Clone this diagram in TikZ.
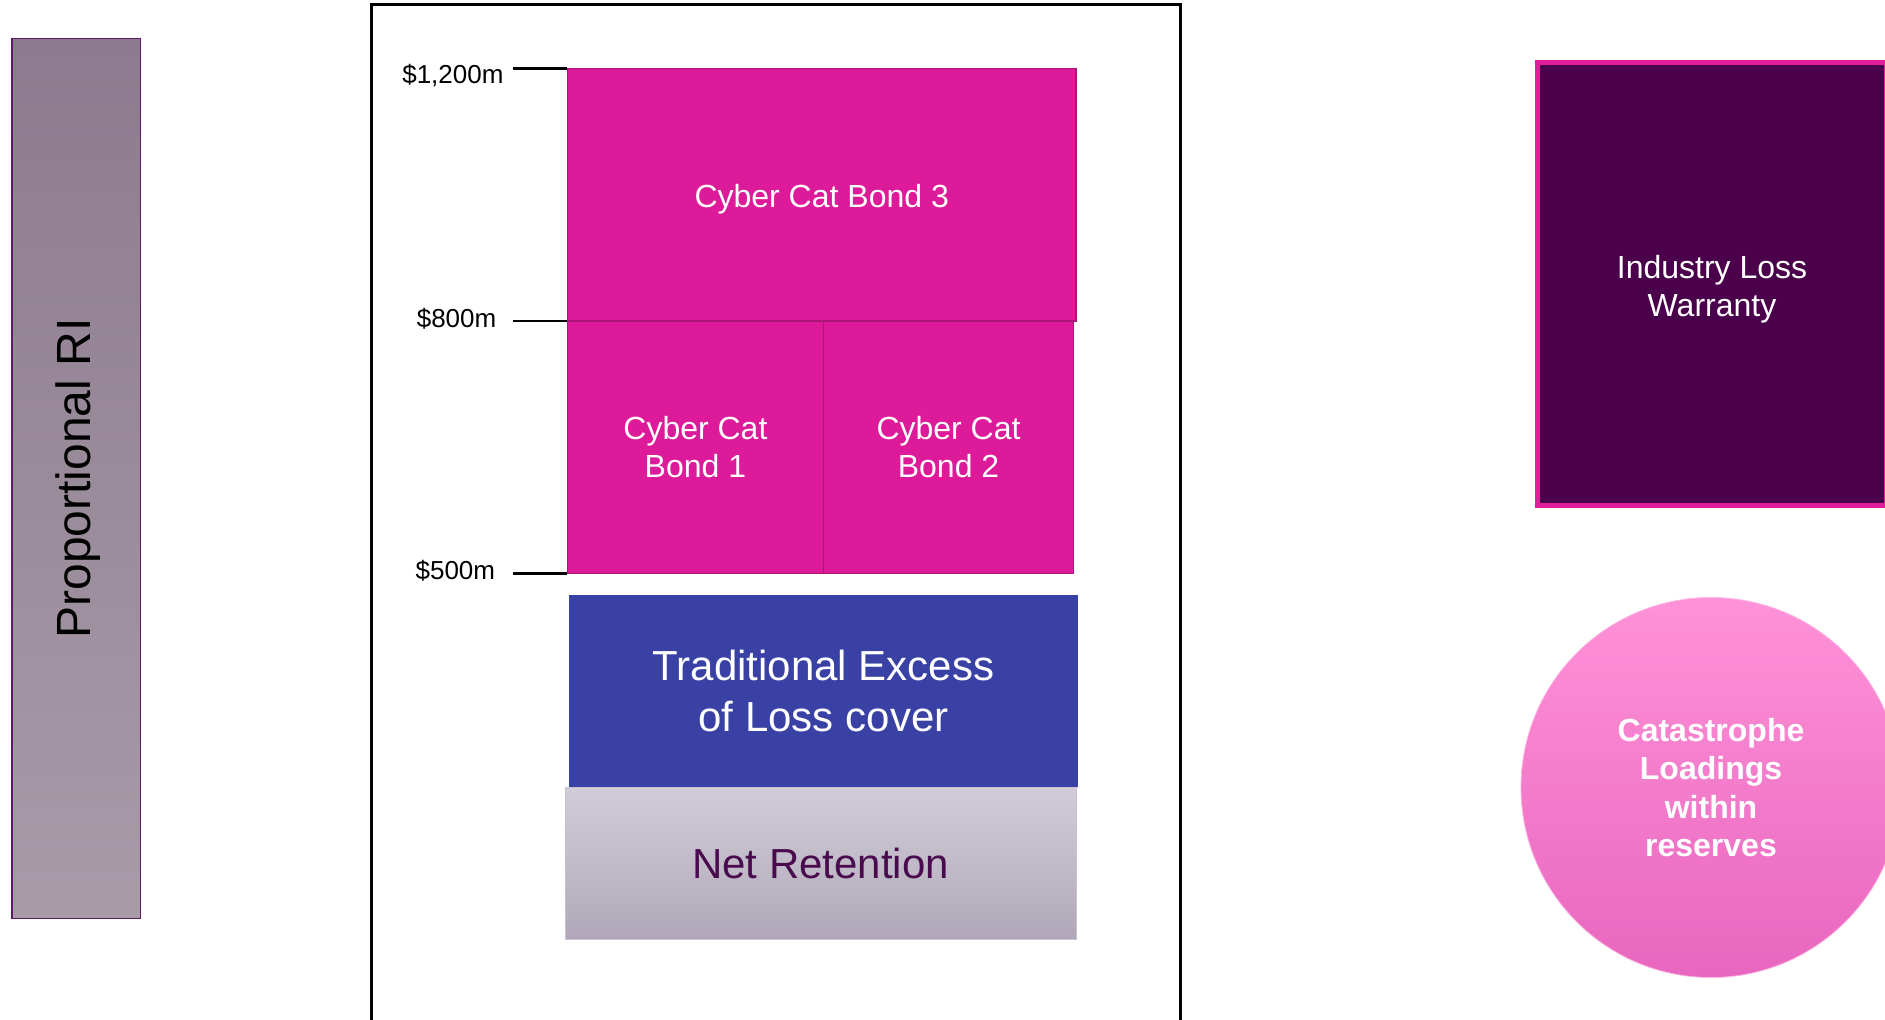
\documentclass[tikz,border=0pt]{standalone}
\usepackage{fontspec}
\setmainfont{Liberation Sans}
\definecolor{bondPink}{RGB}{220,26,154}
\definecolor{bondEdge}{RGB}{170,22,120}
\definecolor{xolBlue}{RGB}{57,65,165}
\definecolor{netTop}{RGB}{210,204,216}
\definecolor{netBottom}{RGB}{176,168,184}
\definecolor{netEdge}{RGB}{200,196,206}
\definecolor{netText}{RGB}{74,10,78}
\definecolor{propTop}{RGB}{140,123,142}
\definecolor{propBottom}{RGB}{168,155,168}
\definecolor{propEdge}{RGB}{96,24,104}
\definecolor{ilwFill}{RGB}{75,0,75}
\definecolor{ilwEdge}{RGB}{224,30,154}
\definecolor{catTop}{RGB}{255,146,216}
\definecolor{catBottom}{RGB}{232,102,190}
\usepackage{tikz}
\usetikzlibrary{positioning}

\begin{document}
\begin{tikzpicture}[x=1pt,y=-1pt,
    layer/.style={rectangle, inner sep=0pt, outer sep=0pt, anchor=north west, align=center},
    bond/.style={layer, draw=bondEdge, line width=1.5pt, fill=bondPink, text=white,
                 font=\fontsize{32}{38.5}\selectfont},
    ticklab/.style={anchor=east, inner sep=0pt, font=\fontsize{26}{31}\selectfont},
    tick/.style={line width=2.5pt}]
    \useasboundingbox (0,0) rectangle (1885,1020);
    \clip (0,0) rectangle (1885,1020);

    % proportional cover
    \node[layer, draw=propEdge, line width=1.5pt, top color=propTop, bottom color=propBottom,
          minimum width=128.7, minimum height=880] (prop) at (12,38.5) {};
    \node[rotate=90, font=\fontsize{48}{58}\selectfont] (proptext) at ([xshift=2pt]prop.center) {Proportional RI};

    % tower frame
    \draw[line width=3pt] (371.5,4.8) rectangle (1180.6,1040);

    % layers of the tower
    \node[bond, minimum width=508.6, minimum height=252.5, text height=25.5pt, text depth=0pt] (bond3) at (567.4,68.5) {Cyber Cat Bond 3};
    \node[bond, minimum width=256.1, minimum height=252.5] (bond1) at (bond3.south west) {Cyber Cat\\Bond 1};
    \node[bond, minimum width=250.1, minimum height=252.5] (bond2) at (bond1.north east) {Cyber Cat\\Bond 2};
    \node[layer, fill=xolBlue, text=white, minimum width=509.8, minimum height=192.4,
          font=\fontsize{42}{50.5}\selectfont] (xol) at (568.6,595) {Traditional Excess\\of Loss cover};
    \node[layer, draw=netEdge, line width=1pt, top color=netTop, bottom color=netBottom, text=netText,
          minimum width=511, minimum height=151.6, font=\fontsize{42}{50.5}\selectfont] (net) at (565,787.4) {Net Retention};

    % attachment points
    \coordinate (t1200) at (513,68.5);
    \coordinate (t800) at (513,321);
    \coordinate (t500) at (513,573.5);
    \draw[tick] (t1200) -- (t1200 -| bond3.west);
    \draw[tick] (t800) -- (t800 -| bond1.west);
    \draw[tick] (t500) -- (t500 -| bond1.west);
    \node[ticklab] (l1200) at (503.7,75.7) {\$1,200m};
    \node[ticklab] (l800) at (496.5,318.6) {\$800m};
    \node[ticklab] (l500) at (495.3,571) {\$500m};

    % other covers
    \node[layer, draw=ilwEdge, line width=5.3pt, fill=ilwFill, text=white, text height=71pt,
          minimum width=348.6, minimum height=443, font=\fontsize{32}{38}\selectfont] (ilw) at (1537.7,62.7) {Industry Loss\\Warranty};
    \node[circle, inner sep=0pt, minimum size=380, top color=catTop, bottom color=catBottom,
          draw=catTop!70!white, line width=0.8pt, text=white, align=center,
          font=\bfseries\fontsize{32}{38.5}\selectfont] (cat) at (1711,787.5) {Catastrophe\\Loadings\\within\\reserves};
\end{tikzpicture}
\end{document}
